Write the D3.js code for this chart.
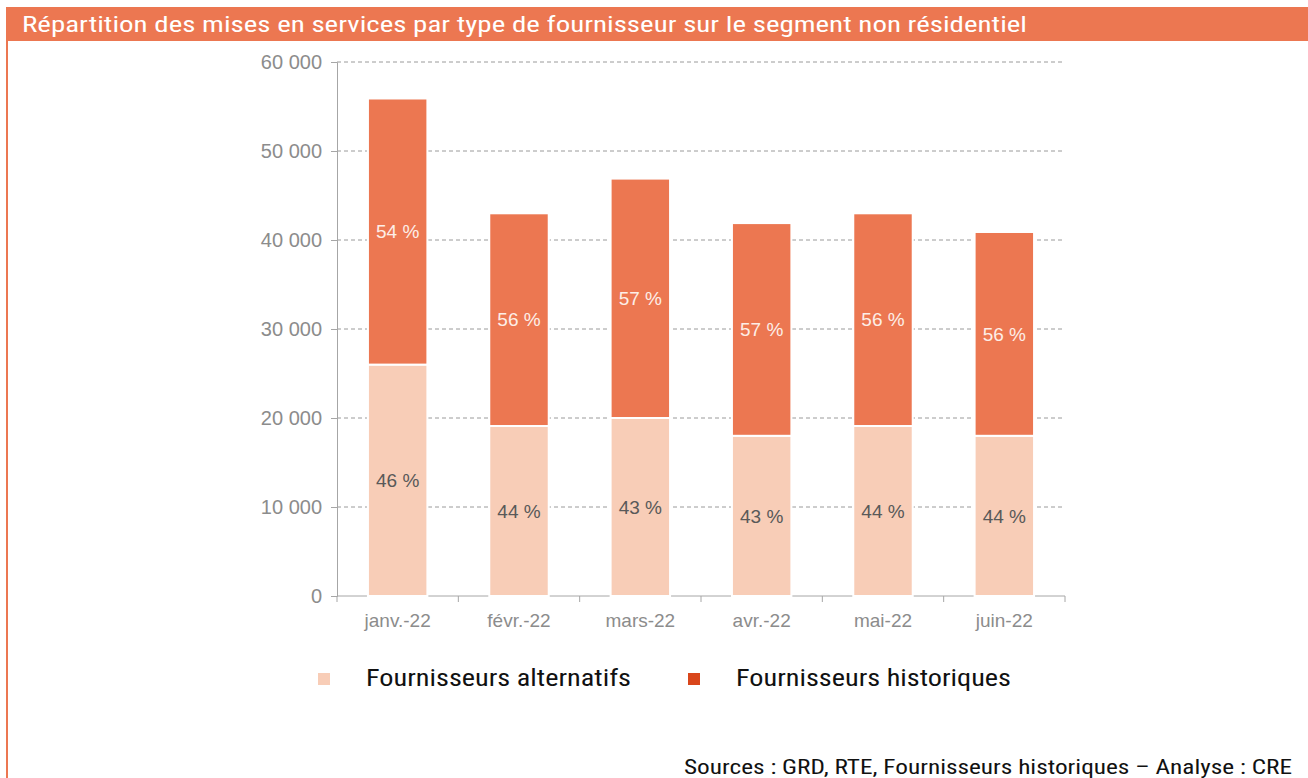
<!DOCTYPE html>
<html>
<head>
<meta charset="utf-8">
<script src="https://cdn.jsdelivr.net/npm/d3@7"></script>
<style>
  body { margin: 0; background: #fff; }
  svg { display: block; }
</style>
</head>
<body>
<div id="chart"></div>
<script>

// data
const months = ['janv.-22', 'févr.-22', 'mars-22', 'avr.-22', 'mai-22', 'juin-22'];
const alternatifs = [26000, 19100, 20000, 18000, 19100, 18000];
const historiques = [29900, 23900, 26900, 23900, 23900, 22900];
const altLabels = ['46 %', '44 %', '43 %', '43 %', '44 %', '44 %'];
const histLabels = ['54 %', '56 %', '57 %', '57 %', '56 %', '56 %'];
const yTicks = [0, 10000, 20000, 30000, 40000, 50000, 60000];
const seriesNames = ['Fournisseurs alternatifs', 'Fournisseurs historiques'];

const titleText = 'Répartition des mises en services par type de fournisseur sur le segment non résidentiel';
const sourceText = 'Sources : GRD, RTE, Fournisseurs historiques – Analyse : CRE';

const colAlt = '#f8cdb7';
const colHist = '#ec7751';
const colHistLegend = '#d9461b';
const narrow = '"Liberation Sans Narrow", "Roboto Condensed", "Arial Narrow", "Liberation Sans", sans-serif';
const plain = '"Liberation Sans", Arial, sans-serif';

let dimensions = { width: 1308, height: 778 };
let margin = { left: 337, right: 243, top: 62, bottom: 182 };

const svg = d3.select('#chart').append('svg')
    .attr('width', dimensions.width)
    .attr('height', dimensions.height);

// frame: title bar + left border
svg.append('rect')
    .attr('x', 6).attr('y', 7)
    .attr('width', dimensions.width - 6).attr('height', 34)
    .style('fill', colHist);
svg.append('rect')
    .attr('x', 6).attr('y', 40)
    .attr('width', 2).attr('height', dimensions.height - 40)
    .style('fill', colHist);

svg.append('text')
    .attr('x', 22).attr('y', 32)
    .attr('textLength', 1005)
    .attr('lengthAdjust', 'spacingAndGlyphs')
    .style('font-family', narrow)
    .style('font-size', '22px')
    .style('fill', '#fff')
    .text(titleText);

// scales
const xScale = d3.scaleBand()
    .domain(months)
    .range([margin.left, dimensions.width - margin.right])
    .paddingInner(0.51)
    .paddingOuter(0.255);

const yScale = d3.scaleLinear()
    .domain([0, 60000])
    .range([dimensions.height - margin.bottom, margin.top]);

const fmt = v => d3.format(',')(v).replace(/,/g, ' ');

// gridlines
svg.append('g')
    .selectAll('line')
    .data(yTicks.filter(d => d > 0))
    .join('line')
    .attr('x1', margin.left).attr('x2', dimensions.width - margin.right)
    .attr('y1', d => yScale(d)).attr('y2', d => yScale(d))
    .style('stroke', '#9a9a9a')
    .style('stroke-width', 1)
    .style('stroke-dasharray', '4,3');

// y axis
const yAxis = svg.append('g')
    .attr('transform', `translate(${margin.left},0)`)
    .call(d3.axisLeft(yScale).tickValues(yTicks).tickFormat(fmt).tickSize(6).tickPadding(9));
yAxis.select('.domain').style('stroke', '#a6a6a6');
yAxis.selectAll('.tick line').style('stroke', '#a6a6a6');
yAxis.selectAll('text')
    .style('font-family', plain)
    .style('font-size', '20px')
    .style('fill', '#8c8c8c');

// x axis (ticks at band boundaries)
const xAxisG = svg.append('g')
    .attr('transform', `translate(0,${yScale(0)})`);
xAxisG.append('line')
    .attr('x1', margin.left).attr('x2', dimensions.width - margin.right)
    .style('stroke', '#a6a6a6');
const step = xScale.step();
xAxisG.selectAll('.xt')
    .data(d3.range(months.length + 1))
    .join('line')
    .attr('class', 'xt')
    .attr('x1', i => margin.left + i * step).attr('x2', i => margin.left + i * step)
    .attr('y1', 0).attr('y2', 6)
    .style('stroke', '#a6a6a6');
xAxisG.selectAll('.xl')
    .data(months)
    .join('text')
    .attr('class', 'xl')
    .attr('x', d => xScale(d) + xScale.bandwidth() / 2)
    .attr('y', 31)
    .attr('text-anchor', 'middle')
    .style('font-family', plain)
    .style('font-size', '19px')
    .style('fill', '#8c8c8c')
    .text(d => d);

// stacked bars
const rows = months.map((m, i) => ({ month: m, alt: alternatifs[i], hist: historiques[i], i }));

const bars = svg.append('g');
bars.selectAll('.alt')
    .data(rows)
    .join('rect')
    .attr('class', 'alt')
    .attr('x', d => xScale(d.month))
    .attr('width', xScale.bandwidth())
    .attr('y', d => yScale(d.alt))
    .attr('height', d => yScale(0) - yScale(d.alt))
    .style('fill', colAlt)
    .style('stroke', '#fff')
    .style('stroke-width', 2);

bars.selectAll('.hist')
    .data(rows)
    .join('rect')
    .attr('class', 'hist')
    .attr('x', d => xScale(d.month))
    .attr('width', xScale.bandwidth())
    .attr('y', d => yScale(d.alt + d.hist))
    .attr('height', d => yScale(d.alt) - yScale(d.alt + d.hist))
    .style('fill', colHist)
    .style('stroke', '#fff')
    .style('stroke-width', 2);

// percentage labels
bars.selectAll('.altl')
    .data(rows)
    .join('text')
    .attr('x', d => xScale(d.month) + xScale.bandwidth() / 2)
    .attr('y', d => (yScale(0) + yScale(d.alt)) / 2)
    .attr('dy', '0.35em')
    .attr('text-anchor', 'middle')
    .style('font-family', plain)
    .style('font-size', '19px')
    .style('fill', '#595959')
    .text(d => altLabels[d.i]);

bars.selectAll('.histl')
    .data(rows)
    .join('text')
    .attr('x', d => xScale(d.month) + xScale.bandwidth() / 2)
    .attr('y', d => (yScale(d.alt) + yScale(d.alt + d.hist)) / 2)
    .attr('dy', '0.35em')
    .attr('text-anchor', 'middle')
    .style('font-family', plain)
    .style('font-size', '19px')
    .style('fill', '#fdeee7')
    .text(d => histLabels[d.i]);

// legend
const legendItems = [
    { name: seriesNames[0], color: colAlt, x: 318, len: 265 },
    { name: seriesNames[1], color: colHistLegend, x: 688, len: 275 }
];
const legend = svg.append('g');
legendItems.forEach(it => {
    legend.append('rect')
        .attr('x', it.x).attr('y', 673)
        .attr('width', 12).attr('height', 12)
        .style('fill', it.color);
    legend.append('text')
        .attr('x', it.x + 48).attr('y', 686)
        .attr('textLength', it.len)
        .attr('lengthAdjust', 'spacingAndGlyphs')
        .style('font-family', narrow)
        .style('font-size', '24px')
        .style('fill', '#111')
        .text(it.name);
});

// source
svg.append('text')
    .attr('x', 684).attr('y', 774)
    .attr('textLength', 608)
    .attr('lengthAdjust', 'spacingAndGlyphs')
    .style('font-family', narrow)
    .style('font-size', '20px')
    .style('fill', '#111')
    .text(sourceText);

</script>
</body>
</html>
